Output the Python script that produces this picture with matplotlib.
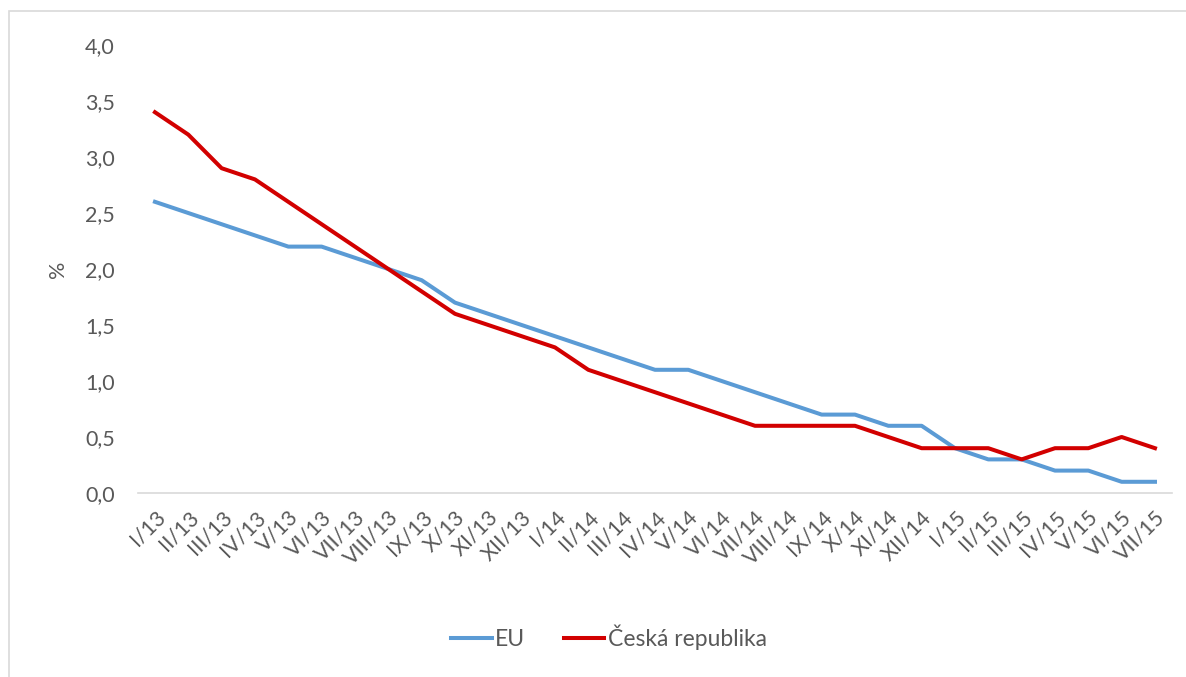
import matplotlib
matplotlib.use("Agg")
import matplotlib.pyplot as plt
from matplotlib.patches import Rectangle
from matplotlib.ticker import FuncFormatter

months = ["I/13", "II/13", "III/13", "IV/13", "V/13", "VI/13", "VII/13", "VIII/13",
          "IX/13", "X/13", "XI/13", "XII/13",
          "I/14", "II/14", "III/14", "IV/14", "V/14", "VI/14", "VII/14", "VIII/14",
          "IX/14", "X/14", "XI/14", "XII/14",
          "I/15", "II/15", "III/15", "IV/15", "V/15", "VI/15", "VII/15"]

eu = [2.6, 2.5, 2.4, 2.3, 2.2, 2.2, 2.1, 2.0, 1.9, 1.7, 1.6, 1.5,
      1.4, 1.3, 1.2, 1.1, 1.1, 1.0, 0.9, 0.8, 0.7, 0.7, 0.6, 0.6,
      0.4, 0.3, 0.3, 0.2, 0.2, 0.1, 0.1]

cz = [3.4, 3.2, 2.9, 2.8, 2.6, 2.4, 2.2, 2.0, 1.8, 1.6, 1.5, 1.4,
      1.3, 1.1, 1.0, 0.9, 0.8, 0.7, 0.6, 0.6, 0.6, 0.6, 0.5, 0.4,
      0.4, 0.4, 0.3, 0.4, 0.4, 0.5, 0.4]

plt.rcParams["font.family"] = ["Lato", "DejaVu Sans"]
text_color = "#595959"

fig = plt.figure(figsize=(11.86, 6.77), dpi=100)
ax = fig.add_axes([0.1166, 0.2718, 0.8713, 0.6617])

# light frame around the chart area
fig.patches.append(Rectangle((8.5 / 1186, -0.05), 1.2, 1 - 11 / 677 + 0.05,
                             transform=fig.transFigure, fill=False,
                             edgecolor="#d9d9d9", linewidth=1.2))

x = range(len(months))
ax.plot(x, eu, color="#5b9bd5", linewidth=2.9, label="EU", solid_joinstyle="round")
ax.plot(x, cz, color="#d20000", linewidth=2.9, label="Česká republika", solid_joinstyle="round")

ax.set_xlim(-0.5, len(months) - 0.5)
ax.set_ylim(0, 4)
ax.set_yticks([i * 0.5 for i in range(9)])
ax.yaxis.set_major_formatter(FuncFormatter(lambda v, p: f"{v:.1f}".replace(".", ",")))
ax.set_xticks(list(x))
ax.set_xticklabels(months, rotation=45, ha="right", va="top", rotation_mode="anchor")

for side in ["top", "right", "left"]:
    ax.spines[side].set_visible(False)
ax.spines["bottom"].set_color("#d9d9d9")
ax.spines["bottom"].set_linewidth(1.2)
ax.tick_params(axis="both", length=0, labelsize=15.5, colors=text_color)
ax.tick_params(axis="y", pad=17)
ax.tick_params(axis="x", pad=10)

ax.set_ylabel("%", fontsize=15.5, color=text_color, labelpad=12)

fig.legend(loc="center", bbox_to_anchor=(609 / 1186, 1 - 637 / 677), ncol=2,
           frameon=False, fontsize=16.5, labelcolor=text_color, handlelength=1.75,
           handletextpad=0.15, columnspacing=1.7)

fig.savefig("out.png", dpi=100)
